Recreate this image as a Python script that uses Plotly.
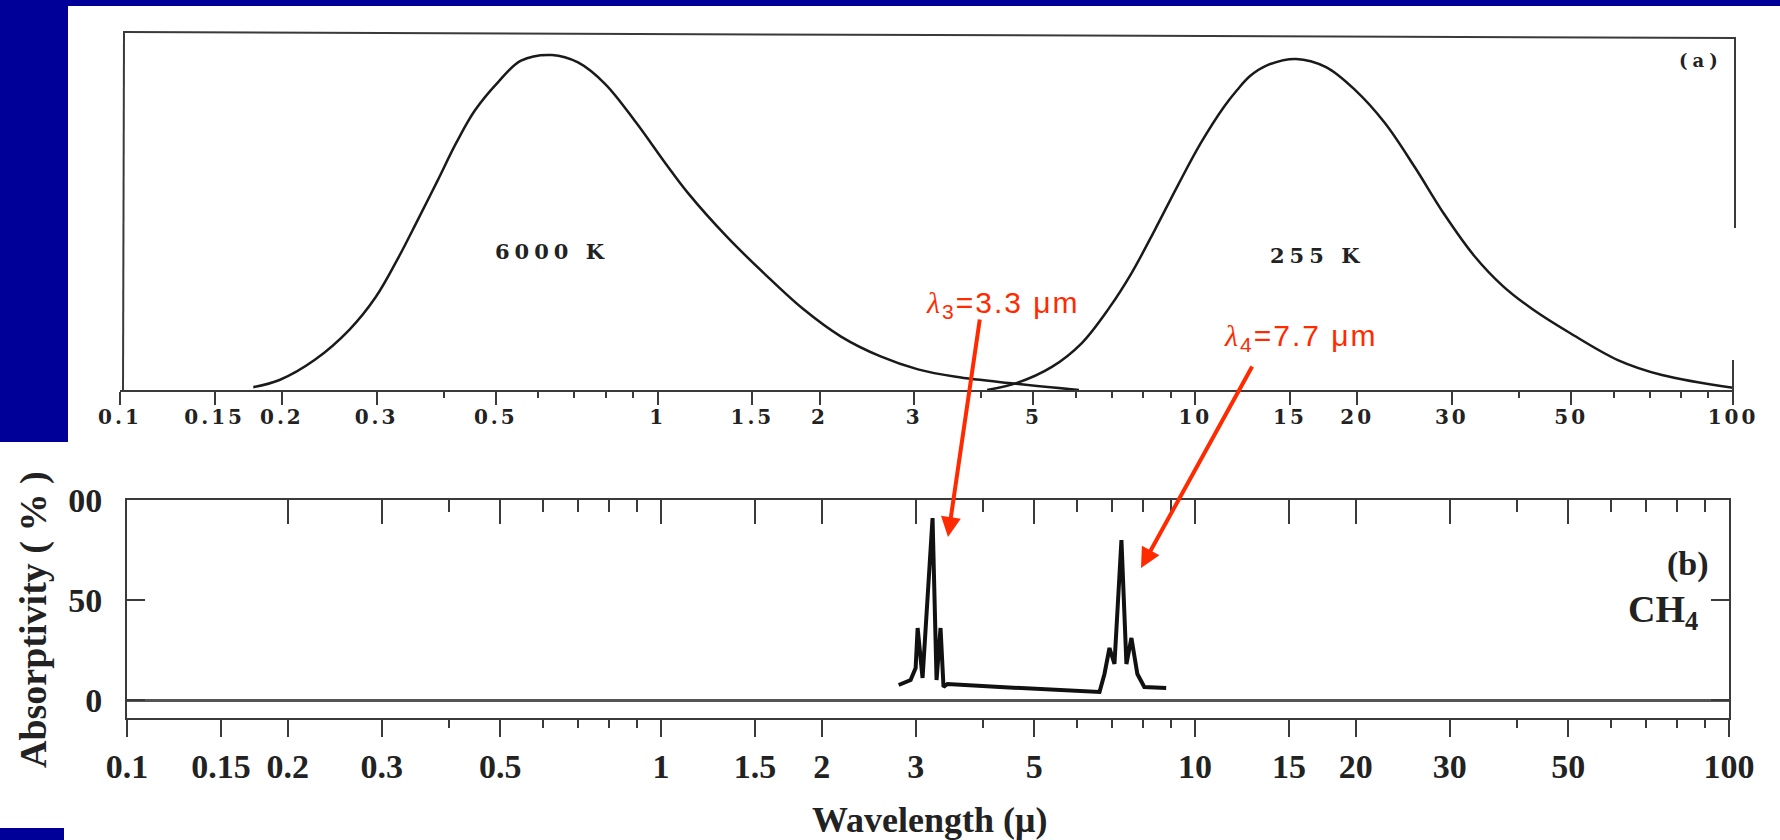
import plotly.graph_objects as go

W, H = 1780, 840

# ---------------- data ----------------
# Panel (a): normalised black-body curves (wavelength in micron, relative intensity)
wl_6000 = [0.177, 0.198, 0.230, 0.267, 0.299, 0.330, 0.358, 0.389, 0.422, 0.457,
           0.505, 0.557, 0.636, 0.711, 0.798, 0.911, 1.036, 1.139, 1.346, 1.584,
           1.863, 2.193, 2.591, 3.049, 3.587, 4.599, 6.075]
rad_6000 = [0.008, 0.028, 0.084, 0.169, 0.261, 0.374, 0.478, 0.586, 0.694, 0.785,
            0.865, 0.925, 0.941, 0.920, 0.860, 0.752, 0.635, 0.553, 0.430, 0.325,
            0.228, 0.150, 0.095, 0.058, 0.037, 0.018, 0.000]

wl_255 = [4.10, 4.66, 5.41, 6.15, 6.91, 7.62, 8.41, 9.28, 10.24, 11.30, 11.95, 12.64,
          13.59, 15.39, 17.50, 19.81, 22.52, 25.62, 29.00, 32.97, 37.33, 42.46, 49.74,
          61.07, 73.76, 100.0]
rad_255 = [0.000, 0.020, 0.065, 0.132, 0.230, 0.330, 0.450, 0.575, 0.694, 0.795, 0.842,
           0.882, 0.912, 0.930, 0.907, 0.843, 0.750, 0.625, 0.495, 0.378, 0.292, 0.226,
           0.160, 0.084, 0.042, 0.006]

# Panel (b): CH4 absorptivity (%)
wl_ch4 = [2.787, 2.934, 2.998, 3.024, 3.089, 3.225, 3.281, 3.338, 3.381, 3.439, 4.315,
          5.347, 6.625, 6.768, 6.916, 7.066, 7.282, 7.440, 7.602, 7.800, 8.037, 8.831]
abs_ch4 = [7.5, 10, 16, 36, 11, 91, 10, 36, 6.5, 8, 6.5,
           5, 4, 13, 26, 18, 80, 18, 31, 13, 6.5, 6]

# Axis ticks
major_vals = [0.1, 0.15, 0.2, 0.3, 0.5, 1, 1.5, 2, 3, 5, 10, 15, 20, 30, 50, 100]
major_text = ["0.1", "0.15", "0.2", "0.3", "0.5", "1", "1.5", "2", "3", "5",
              "10", "15", "20", "30", "50", "100"]
minor_vals = [0.4, 0.6, 0.7, 0.8, 0.9, 4, 6, 7, 8, 9, 40, 60, 70, 80, 90]
topb_major = [0.2, 0.3, 0.5, 1, 1.5, 2, 3, 5, 10, 15, 20, 30, 50]
yb_vals = [0, 50, 100]
yb_text = ["0", "50", "00"]

# ---------------- helpers ----------------
def px(x):
    return x / W


def py(y):
    return 1 - y / H


def spaced(t, s):
    return '<span style="letter-spacing:%dpx">%s</span>' % (s, t)


AX = "#3a3a3a"
SERIF_W = "DejaVu Serif"
SERIF = "Liberation Serif"
RED = "#ff2a00"
BLUE = "#000099"

fig = go.Figure()

fig.add_trace(go.Scatter(x=wl_6000, y=rad_6000, mode="lines", xaxis="x", yaxis="y",
                         line=dict(color="#1a1a1a", width=2.5, shape="spline", smoothing=1.0),
                         showlegend=False, hoverinfo="skip"))
fig.add_trace(go.Scatter(x=wl_255, y=rad_255, mode="lines", xaxis="x", yaxis="y",
                         line=dict(color="#1a1a1a", width=2.5, shape="spline", smoothing=1.0),
                         showlegend=False, hoverinfo="skip"))
fig.add_trace(go.Scatter(x=wl_ch4, y=abs_ch4, mode="lines", xaxis="x3", yaxis="y3",
                         line=dict(color="#111111", width=4),
                         showlegend=False, hoverinfo="skip"))
fig.add_trace(go.Scatter(x=[], y=[], xaxis="x4", yaxis="y3", showlegend=False))

tick_common = dict(type="log", range=[-1, 2], showgrid=False, zeroline=False, automargin=False,
                   showline=True, linecolor=AX, linewidth=2, tickcolor=AX, tickwidth=2)

fig.update_layout(
    width=W, height=H, autosize=False,
    margin=dict(l=0, r=0, t=0, b=0, pad=0, autoexpand=False),
    paper_bgcolor="white", plot_bgcolor="rgba(0,0,0,0)",
    showlegend=False,
    xaxis=dict(domain=[px(120), px(1733)], anchor="y", ticks="outside", ticklen=13,
               tickmode="array", tickvals=major_vals,
               ticktext=[spaced(t, 3) for t in major_text],
               tickfont=dict(family=SERIF_W, size=20, color="#222", weight="bold"),
               ticklabelstandoff=-5,
               minor=dict(tickmode="array", tickvals=minor_vals, ticks="outside",
                          ticklen=6, tickwidth=2, tickcolor=AX, showgrid=False),
               **tick_common),
    yaxis=dict(domain=[py(390), py(34)], anchor="x", range=[0, 1], showline=False,
               showticklabels=False, showgrid=False, zeroline=False, ticks="",
               automargin=False),
    xaxis3=dict(domain=[px(127), px(1729)], anchor="y3", ticks="outside", ticklen=17,
                tickmode="array", tickvals=major_vals, ticktext=major_text,
                tickfont=dict(family=SERIF, size=34, color="#222", weight="bold"),
                minor=dict(tickmode="array", tickvals=minor_vals, ticks="outside",
                           ticklen=8, tickwidth=2, tickcolor=AX, showgrid=False),
                **tick_common),
    xaxis4=dict(overlaying="x3", anchor="y3", side="top", ticks="inside", ticklen=24,
                tickmode="array", tickvals=topb_major, showticklabels=False,
                minor=dict(tickmode="array", tickvals=minor_vals, ticks="inside",
                           ticklen=12, tickwidth=2, tickcolor=AX, showgrid=False),
                **tick_common),
    yaxis3=dict(domain=[py(718), py(500)], anchor="x3", range=[-9, 100],
                showline=True, mirror="ticks", linecolor=AX, linewidth=2,
                ticks="inside", ticklen=18, tickwidth=2, tickcolor=AX,
                tickmode="array", tickvals=yb_vals, ticktext=yb_text,
                tickfont=dict(family=SERIF, size=34, color="#222", weight="bold"),
                ticklabelstandoff=16, showgrid=False, automargin=False,
                zeroline=True, zerolinecolor="#555", zerolinewidth=2.5),
)

shapes = [
    # blue slide background pieces
    dict(type="rect", xref="paper", yref="paper", x0=0, x1=1, y0=py(6), y1=1,
         fillcolor=BLUE, line=dict(width=0)),
    dict(type="rect", xref="paper", yref="paper", x0=0, x1=px(68), y0=py(442), y1=1,
         fillcolor=BLUE, line=dict(width=0)),
    dict(type="rect", xref="paper", yref="paper", x0=0, x1=px(64), y0=0, y1=py(828),
         fillcolor=BLUE, line=dict(width=0)),
    # frame of panel (a)
    dict(type="line", xref="paper", yref="paper", x0=px(123), y0=py(32), x1=px(1736), y1=py(38),
         line=dict(color=AX, width=2)),
    dict(type="line", xref="paper", yref="paper", x0=px(124), y0=py(32), x1=px(123), y1=py(392),
         line=dict(color=AX, width=2)),
    dict(type="line", xref="paper", yref="paper", x0=px(1735), y0=py(38), x1=px(1735), y1=py(228),
         line=dict(color=AX, width=2)),
    dict(type="line", xref="paper", yref="paper", x0=px(1733), y0=py(360), x1=px(1733), y1=py(392),
         line=dict(color=AX, width=2)),
]
fig.update_layout(shapes=shapes)

ann = []


def label(txt, x, y, family, size, color="#222", weight="bold", angle=0):
    ann.append(dict(text=txt, x=px(x), y=py(y), xref="paper", yref="paper",
                    xanchor="center", yanchor="middle", showarrow=False, textangle=angle,
                    font=dict(family=family, size=size, color=color, weight=weight)))


label(spaced("6000 K", 5), 552, 251, SERIF_W, 21)
label(spaced("255 K", 5), 1317, 255, SERIF_W, 21)
label(spaced("(a)", 5), 1701, 61, SERIF_W, 18)
label("(b)", 1688, 564, SERIF, 34)
label("CH<sub>4</sub>", 1663, 612, SERIF, 38)
label("Wavelength (μ)", 929, 820, SERIF, 36)
label("Absorptivity ( % )", 33, 620, SERIF, 38, angle=-90)
label(spaced('<span style="font-family:Liberation Serif"><i>λ</i></span><sub>3</sub>=3.3 μm', 2),
      1003, 304, "Liberation Sans", 30, color=RED, weight="normal")
label(spaced('<span style="font-family:Liberation Serif"><i>λ</i></span><sub>4</sub>=7.7 μm', 2),
      1301, 337, "Liberation Sans", 30, color=RED, weight="normal")


def arrow(x0, y0, x1, y1):
    ann.append(dict(text="", x=px(x1), y=py(y1), xref="paper", yref="paper",
                    ax=x0 - x1, ay=y0 - y1, axref="pixel", ayref="pixel",
                    showarrow=True, arrowhead=2, arrowsize=1, arrowwidth=4,
                    arrowcolor=RED, standoff=0, startstandoff=0))


arrow(980, 318, 948, 537)
arrow(1253, 365, 1141, 568)

fig.update_layout(annotations=ann)

fig.write_html("out.html", config={"displayModeBar": False},
               post_script="document.body.style.margin='0';")
